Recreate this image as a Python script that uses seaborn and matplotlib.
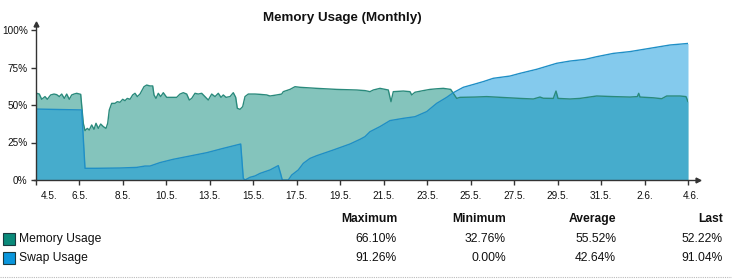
import numpy as np
import pandas as pd
import matplotlib
matplotlib.use("Agg")
import matplotlib.pyplot as plt
import matplotlib.transforms as mtransforms
import seaborn as sns

# ---------------- data ----------------
title = "Memory Usage (Monthly)"
tick_labels = ["4.5.", "6.5.", "8.5.", "10.5.", "13.5.", "15.5.", "17.5.", "19.5.",
               "21.5.", "23.5.", "25.5.", "27.5.", "29.5.", "31.5.", "2.6.", "4.6."]
y_ticks = [0, 25, 50, 75, 100]

# time index (0 .. 652 spans the month) and usage in percent
mem_t = [0, 0.7, 3.3, 5.7, 9, 11.3, 14.7, 18, 20.7, 23.3, 25.7, 28.3, 30.7, 33.3, 35.7, 38, 40.7,
         44.7, 47.3, 49, 51.3, 53.3, 55.7, 58, 60, 62.3, 64.7, 67.3, 70, 71.7, 73.3, 75.7, 79,
         81.3, 84, 86.7, 89, 91.3, 94, 96.7, 99, 101.3, 104, 108, 110.7, 114, 116.7, 118, 120,
         122.3, 124.7, 127.3, 130.7, 135.7, 140.7, 144, 147.3, 150.7, 153.3, 155.7, 159, 162.3,
         165.7, 169, 172.3, 175.7, 179, 182.3, 185, 187.3, 190, 194, 197.3, 199.7, 201.3, 204,
         206.7, 209, 212.3, 219, 224, 230.7, 234, 240.7, 245.7, 247.3, 254, 259, 264, 280.7,
         300.7, 320.7, 329, 334, 337.3, 344, 352.3, 355, 357.3, 367.3, 374, 375.7, 379, 387.3,
         394, 400.7, 407.3, 414.7, 417.3, 420.7, 424, 439, 450.7, 467.3, 484, 497.3, 504,
         507.3, 517.3, 520, 522, 534, 544, 560.7, 577.3, 594, 601.3, 602.7, 604, 617.3, 625.7,
         630.7, 644, 650, 652]
mem_v = [57.5, 57.8, 57.3, 53.8, 55.6, 53.8, 56.7, 57.3, 56.9, 55.6, 57.3, 54.4, 57.3, 53.8, 56.7,
         57.3, 57.8, 57.1, 37.8, 32.9, 34.4, 33.3, 36.7, 33.8, 37.8, 34.4, 37.3, 35.6, 34.4, 37.8,
         46.7, 51.1, 51.1, 52.2, 51.8, 53.8, 52.9, 54.4, 53.8, 56.7, 57.8, 55.6, 57.3, 62.2, 63.3,
         62.7, 62.7, 56.7, 54.4, 57.8, 55.6, 58.2, 55.1, 55.1, 55.1, 57.3, 58.2, 57.3, 53.3, 54.4,
         57.8, 57.3, 57.8, 55.6, 53.3, 57.3, 55.6, 57.8, 55.1, 56.7, 55.1, 55.6, 58.2, 55.1, 47.8,
         47.1, 48.9, 55.6, 57.3, 57.3, 57.1, 56.7, 56.0, 56.7, 57.3, 58.9, 60.4, 62.2, 61.8, 61.1,
         60.4, 60.0, 59.6, 58.9, 60.0, 61.1, 60.0, 52.2, 58.9, 59.3, 58.9, 56.7, 58.5, 59.6, 60.4,
         60.8, 61.1, 60.4, 57.8, 54.4, 55.1, 55.3, 55.6, 55.0, 54.4, 54.0, 55.3, 54.5, 54.4, 59.3,
         54.4, 54.0, 54.4, 56.0, 55.6, 55.3, 55.6, 57.8, 55.3, 54.8, 54.2, 56.0, 56.0, 55.6, 52.2]

swap_t = [0, 45.7, 49, 60.7, 84, 100.7, 109, 114, 124, 137.3, 154, 170.7, 187.3, 204.7, 207.3,
          209, 214, 219, 224, 234, 242.3, 244.7, 246.3, 252.3, 255.7, 262.3, 267.3, 274, 280.7,
          297.3, 314, 324, 329, 334, 344, 354, 367.3, 379, 390.7, 400.7, 410.7, 417.3, 427.3,
          439, 447.3, 457.3, 474, 484, 500.7, 520.7, 534, 549, 560.7, 577.3, 594, 614, 634, 652]
swap_v = [47.3, 46.7, 7.8, 7.8, 8.0, 8.4, 9.3, 9.3, 11.6, 13.8, 16.0, 18.2, 21.1, 24.0, 1.1,
          0.0, 1.8, 2.7, 4.4, 6.7, 9.6, 4.0, 0.0, 0.0, 3.3, 6.7, 11.1, 14.4, 16.2,
          20.0, 24.0, 27.1, 28.9, 32.2, 35.6, 39.6, 41.1, 42.2, 45.6, 51.1, 55.1, 58.2, 61.8,
          64.0, 65.6, 67.8, 69.3, 71.1, 73.8, 77.8, 79.3, 80.4, 82.2, 84.4, 85.6, 87.8, 90.0, 91.04]

series_names = ["Memory Usage", "Swap Usage"]
stat_headers = ["Maximum", "Minimum", "Average", "Last"]
stat_values = [["66.10%", "32.76%", "55.52%", "52.22%"],
               ["91.26%", "0.00%", "42.64%", "91.04%"]]

# ---------------- style ----------------
sns.set_theme(style="white")
plt.rcParams["font.family"] = ["Liberation Sans", "DejaVu Sans"]

mem_color = "#0a8a7a"
swap_color = "#0a96dc"
mem_line = "#2a8a7c"
swap_line = "#1f8fc6"
axis_col = "#333333"

W, H = 732, 280
fig = plt.figure(figsize=(W / 100, H / 100), dpi=100)
ax = fig.add_axes([36 / W, 1 - 180 / H, (688 - 36) / W, 150 / H])

mem_df = pd.DataFrame({"t": mem_t, "v": mem_v})
swap_df = pd.DataFrame({"t": swap_t, "v": swap_v})

ax.fill_between(mem_df["t"], mem_df["v"], color=mem_color, alpha=0.5, lw=0)
ax.fill_between(swap_df["t"], swap_df["v"], color=swap_color, alpha=0.5, lw=0)
sns.lineplot(data=mem_df, x="t", y="v", ax=ax, color=mem_line, lw=1.0, sort=False)
sns.lineplot(data=swap_df, x="t", y="v", ax=ax, color=swap_line, lw=1.0, sort=False)

ax.set_xlim(0, 652)
ax.set_ylim(0, 100)
ax.set_xlabel("")
ax.set_ylabel("")

for s in ["top", "right"]:
    ax.spines[s].set_visible(False)
for s in ["left", "bottom"]:
    ax.spines[s].set_color(axis_col)
    ax.spines[s].set_linewidth(1.0)
ax.spines["left"].set_bounds(0, 104)
ax.spines["bottom"].set_bounds(-2, 662)
# arrow heads
ax.plot([0], [104], marker="^", color=axis_col, ms=3.5, clip_on=False, transform=ax.transData)
ax.plot([662], [0], marker=">", color=axis_col, ms=3.5, clip_on=False)

xt = np.linspace(0, 652, len(tick_labels))
ax.set_xticks(xt)
ax.set_xticklabels(tick_labels)
ax.set_yticks(y_ticks)
ax.set_yticklabels([f"{v}%" for v in y_ticks])
ax.tick_params(axis="both", which="both", direction="out", length=3.5, width=1,
               color=axis_col, labelsize=7.2, labelcolor="#111111", bottom=True, left=True)
ax.tick_params(axis="x", pad=4.5)
ax.tick_params(axis="y", pad=2.5)
labs = ax.get_xticklabels()
labs[0].set_transform(labs[0].get_transform() +
                      mtransforms.ScaledTranslation(13 / 100, 0, fig.dpi_scale_trans))
labs[-1].set_transform(labs[-1].get_transform() +
                       mtransforms.ScaledTranslation(3 / 100, 0, fig.dpi_scale_trans))

# title
fig.text(342 / W, 1 - 18 / H, title, ha="center", va="center", fontsize=9.6,
         fontweight="bold", color="#111111")

# stats table
col_right = [397, 506, 616, 723]
for hdr, xr in zip(stat_headers, col_right):
    fig.text(xr / W, 1 - 219 / H, hdr, ha="right", va="center", fontsize=8.7,
             fontweight="bold", color="#111111")
row_y = [239, 258]
legend_cols = [mem_color, swap_color]
for name, vals, ry, c in zip(series_names, stat_values, row_y, legend_cols):
    fig.patches.append(plt.Rectangle((3 / W, 1 - (ry + 6) / H), 12 / W, 12 / H,
                                     transform=fig.transFigure, facecolor=c,
                                     edgecolor="#1a3a40", lw=0.8))
    fig.text(19 / W, 1 - ry / H, name, ha="left", va="center", fontsize=8.7, color="#111111")
    for v, xr in zip(vals, col_right):
        fig.text(xr / W, 1 - ry / H, v, ha="right", va="center", fontsize=8.7, color="#111111")

fig.add_artist(plt.Line2D([0, 1], [1 - 277 / H, 1 - 277 / H], transform=fig.transFigure,
                          color="#bbbbbb", lw=0.8, ls=(0, (1, 1))))

fig.savefig("out.png", dpi=100)
